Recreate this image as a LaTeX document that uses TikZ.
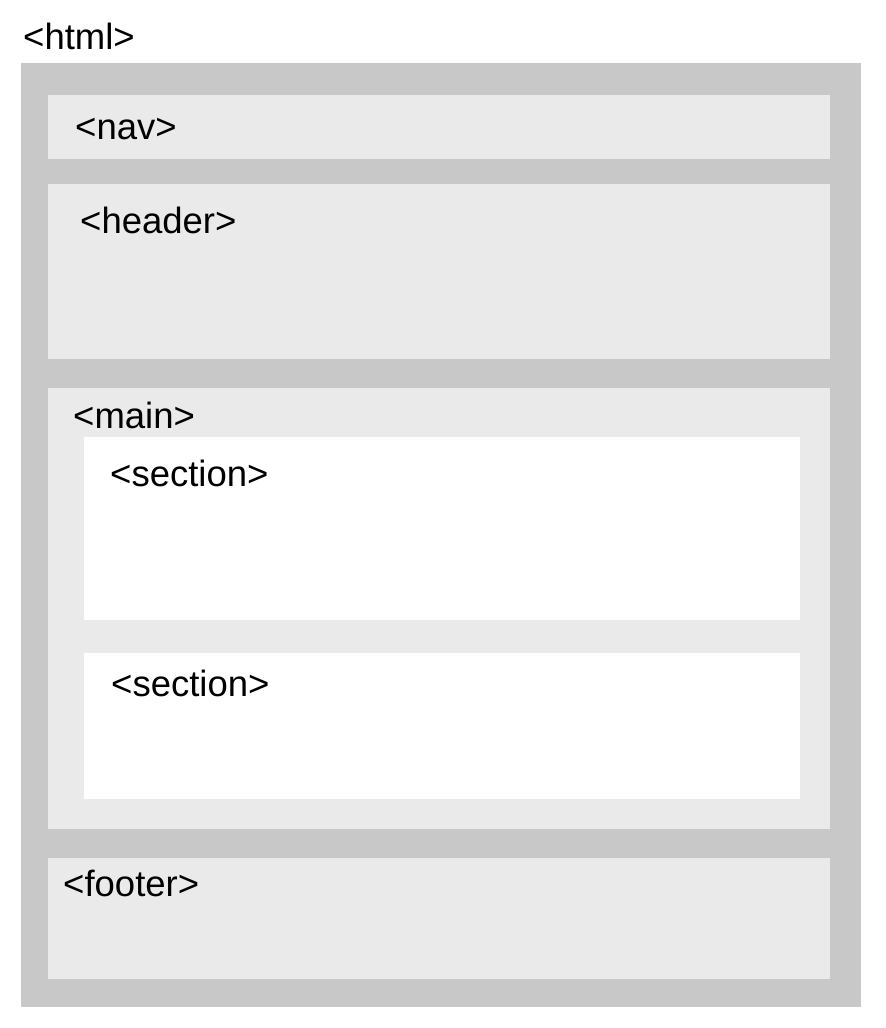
\documentclass[tikz,border=0pt]{standalone}
\usepackage{fontspec}
\setmainfont{Liberation Sans}
\definecolor{outergray}{HTML}{C8C8C8}
\definecolor{innergray}{HTML}{EAEAEA}
\begin{document}
\begin{tikzpicture}[x=1pt,y=-1pt,
  lbl/.style={anchor=base west,inner sep=0pt,font=\fontsize{36.5}{41}\selectfont,text=black}]
\useasboundingbox (0,0) rectangle (886,1028);
\fill[white] (0,0) rectangle (886,1028);
% html
\fill[outergray] (21,63) rectangle (861,1007);
% nav, header, main, footer
\fill[innergray] (48,95) rectangle (830,159);
\fill[innergray] (48,184) rectangle (830,359);
\fill[innergray] (48,388) rectangle (830,829);
\fill[innergray] (48,858) rectangle (830,979);
% sections
\fill[white] (84,437) rectangle (800,620);
\fill[white] (84,653) rectangle (800,799);
% labels
\node[lbl] (html) at (23,49) {<html>};
\node[lbl] (nav) at (75,139) {<nav>};
\node[lbl] (header) at (80,233) {<header>};
\node[lbl] (main) at (73,428) {<main>};
\node[lbl] (sec1) at (110,486) {<section>};
\node[lbl] (sec2) at (111,696) {<section>};
\node[lbl] (footer) at (63,896) {<footer>};
\end{tikzpicture}
\end{document}
